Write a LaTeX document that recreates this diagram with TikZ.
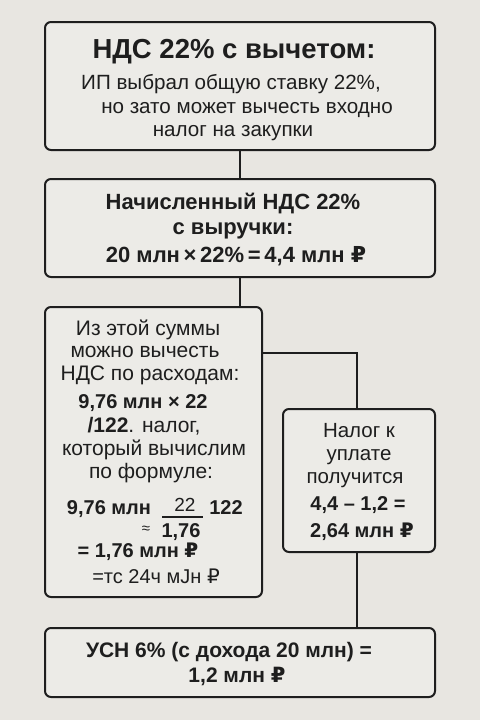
\documentclass[tikz,border=0pt]{standalone}
\usepackage{fontspec}
\setmainfont{Liberation Sans}
\newfontfamily\rubf{DejaVu Sans}
\newcommand\rub{{\rubf ₽}}
\definecolor{bgc}{HTML}{E8E6E1}
\definecolor{boxc}{HTML}{ECEBE7}
\definecolor{ink}{HTML}{1E1E1E}
\begin{document}
\begin{tikzpicture}[x=1pt,y=-1pt,
  boxst/.style={draw=ink, line width=2pt, rounded corners=6pt, fill=boxc, inner sep=0pt},
  conn/.style={draw=ink, line width=2pt},
  txt/.style={inner sep=0pt, text=ink, anchor=base, font=\fontsize{21}{24}\selectfont},
  btxt/.style={txt, font=\fontsize{20}{24}\selectfont\bfseries},
]
\useasboundingbox (0,0) rectangle (480,720);
\fill[bgc] (0,0) rectangle (480,720);

% boxes
\node[boxst, minimum width=390pt, minimum height=128pt] (b1) at (240,86) {};
\node[boxst, minimum width=390pt, minimum height=98pt] (b2) at (240,228) {};
\node[boxst, minimum width=217pt, minimum height=290pt] (b3) at (153.5,452) {};
\node[boxst, minimum width=152pt, minimum height=143pt] (b4) at (359,480.5) {};
\node[boxst, minimum width=390pt, minimum height=69pt] (b5) at (240,662.5) {};

% connectors
\coordinate (j) at (357,353);
\draw[conn] (b1.south) -- (b2.north);
\draw[conn] (b2.south) -- (b2.south |- b3.north);
\draw[conn] (j -| b3.east) -- (j) -- (j |- b4.north);
\draw[conn] (j |- b4.south) -- (j |- b5.north);

% box 1
\node[txt, font=\fontsize{27.5}{30}\selectfont\bfseries] (t1) at (234,58) {НДС 22\% с вычетом:};
\node[txt, font=\fontsize{20.6}{24}\selectfont] (t2) at (231,89) {ИП выбрал общую ставку 22\%,};
\node[txt, font=\fontsize{20.6}{24}\selectfont] (t3) at (247,113) {но зато может вычесть входно};
\node[txt, font=\fontsize{20.6}{24}\selectfont] (t4) at (233,136) {налог на закупки};

% box 2
\node[txt, font=\fontsize{22}{24}\selectfont\bfseries] (t5) at (233,209) {Начисленный НДС 22\%};
\node[txt, font=\fontsize{22}{24}\selectfont\bfseries] (t6) at (233,234) {с выручки:};
\node[txt, font=\fontsize{22}{24}\selectfont\bfseries] (t7) at (236,262) {20 млн\,×\,22\%\,=\,4,4 млн \rub};

% box 3
\node[txt] (u1) at (148,335) {Из этой суммы};
\node[txt] (u2) at (145,357) {можно вычесть};
\node[txt] (u3) at (150,380) {НДС по расходам:};
\node[btxt] (u4) at (143,408) {9,76 млн × 22};
\node[txt] (u5) at (144,432) {\textbf{/122}. налог,};
\node[txt] (u6) at (154,455) {который вычислим};
\node[txt] (u7) at (151,478) {по формуле:};
\node[btxt] (u8) at (109,514) {9,76 млн};
\node[txt, font=\fontsize{19}{24}\selectfont] (u9) at (185,511) {22};
\draw[ink, line width=1.6pt] (162,517) -- (203,517);
\node[btxt] (u10) at (226,514) {122};
\node[txt, font=\fontsize{15}{18}\selectfont] (u11) at (146,533) {≈};
\node[btxt] (u12) at (181,537) {1,76};
\node[btxt] (u13) at (138,557) {= 1,76 млн \rub};
\node[txt, font=\fontsize{20}{24}\selectfont] (u14) at (156,583) {=тс 24ч мJн \rub};

% box 4
\node[txt, font=\fontsize{20.5}{24}\selectfont] (v1) at (359,437) {Налог к};
\node[txt, font=\fontsize{20.5}{24}\selectfont] (v2) at (359,460) {уплате};
\node[txt, font=\fontsize{20.5}{24}\selectfont] (v3) at (355,483) {получится};
\node[btxt] (v4) at (358,510) {4,4 – 1,2 =};
\node[btxt] (v5) at (362,537) {2,64 млн \rub};

% box 5
\node[txt, font=\fontsize{21}{24}\selectfont\bfseries] (w1) at (229,657) {УСН 6\% (с дохода 20 млн) =};
\node[txt, font=\fontsize{21}{24}\selectfont\bfseries] (w2) at (237,682) {1,2 млн \rub};
\end{tikzpicture}
\end{document}
